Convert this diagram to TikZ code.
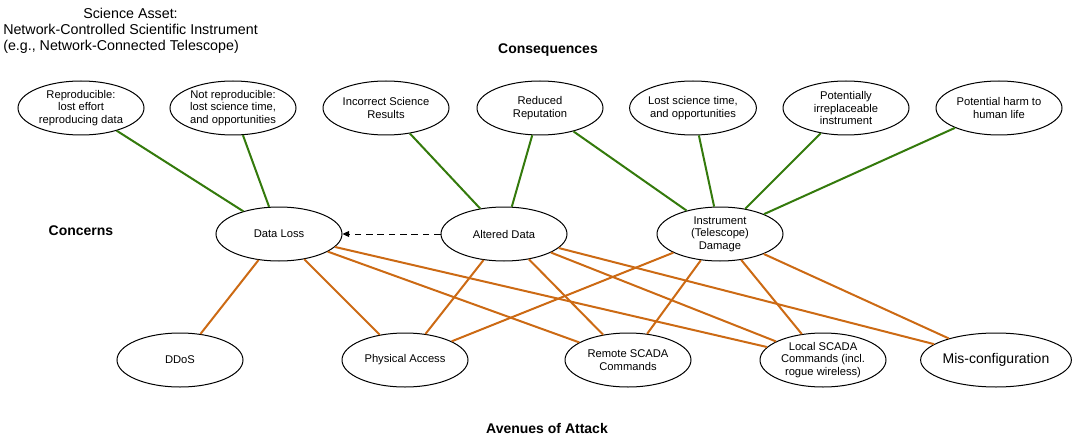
\documentclass[tikz,border=0pt]{standalone}
\usepackage{fontspec}
\setmainfont{Liberation Sans}
\usepackage{xcolor}
\usepackage{tikz}
\usetikzlibrary{arrows.meta,positioning,shapes.geometric}
\definecolor{leafgreen}{HTML}{347A0C}
\definecolor{rustorange}{HTML}{CC6A14}

\begin{document}
\begin{tikzpicture}[x=0.75pt, y=-0.75pt, every node/.style={font=\fontsize{8.4}{9.3}\selectfont}, oval/.style={draw,ellipse,fill=white,line width=0.75pt,align=center,inner sep=0pt,minimum width=94.5pt,minimum height=40.5pt}, head/.style={font=\fontsize{10.5}{12}\selectfont\bfseries}, conseq/.style={leafgreen,line width=1.5pt}, attack/.style={rustorange,line width=1.5pt}, arr/.style={-{Triangle[length=5pt,width=4.5pt]},line width=0.75pt,dash pattern=on 5pt off 3.5pt}]
\path[use as bounding box] (0,0) rectangle (1081,442);
% title and row headings
\node[anchor=west,inner sep=0pt,font=\fontsize{10.7}{12}\selectfont] (asset) at (3,31) {\begin{tabular}{@{}l@{}}\multicolumn{1}{@{}c@{}}{Science Asset:}\\Network-Controlled Scientific Instrument\\(e.g., Network-Connected Telescope)\end{tabular}};
\node[head] (conshead) at (548,50) {Consequences};
\node[head] (conchead) at (81,231) {Concerns};
\node[head] (avehead) at (547,428) {Avenues of Attack};
% consequences
\node[oval] (repro) at (81,108) {Reproducible:\\lost effort\\reproducing data};
\node[oval] (notrepro) at (233,108) {Not reproducible:\\lost science time,\\and opportunities};
\node[oval] (wrong) at (386,108) {Incorrect Science\\Results};
\node[oval] (reput) at (540,108) {Reduced\\Reputation};
\node[oval] (losttime) at (693,108) {Lost science time,\\and opportunities};
\node[oval] (irrepl) at (846,108) {Potentially\\irreplaceable\\instrument};
\node[oval] (harm) at (999,108) {Potential harm to\\human life};
% concerns
\node[oval] (loss) at (279,234) {Data Loss};
\node[oval] (altered) at (504,234) {Altered Data};
\node[oval] (damage) at (720,234) {Instrument\\(Telescope)\\Damage};
% avenues of attack
\node[oval] (ddos) at (180,360) {DDoS};
\node[oval] (phys) at (405,360) {Physical Access};
\node[oval] (remote) at (628,360) {Remote SCADA\\Commands};
\node[oval] (local) at (823,360) {Local SCADA\\Commands (incl.\\rogue wireless)};
\node[oval,minimum width=113pt,font=\fontsize{10.5}{12}\selectfont] (misconf) at (996,360) {Mis-configuration};
% links
\draw[conseq] (repro)--(loss); \draw[conseq] (notrepro)--(loss); \draw[conseq] (wrong)--(altered); \draw[conseq] (reput)--(altered);
\draw[conseq] (reput)--(damage); \draw[conseq] (losttime)--(damage); \draw[conseq] (irrepl)--(damage); \draw[conseq] (harm)--(damage);
\draw[attack] (loss)--(ddos); \draw[attack] (loss)--(phys); \draw[attack] (loss)--(remote); \draw[attack] (loss)--(local);
\draw[attack] (altered)--(phys); \draw[attack] (altered)--(remote); \draw[attack] (altered)--(local); \draw[attack] (altered)--(misconf);
\draw[attack] (damage)--(phys); \draw[attack] (damage)--(remote); \draw[attack] (damage)--(local); \draw[attack] (damage)--(misconf);
\draw[arr] (altered)--(loss);
\end{tikzpicture}
\end{document}
